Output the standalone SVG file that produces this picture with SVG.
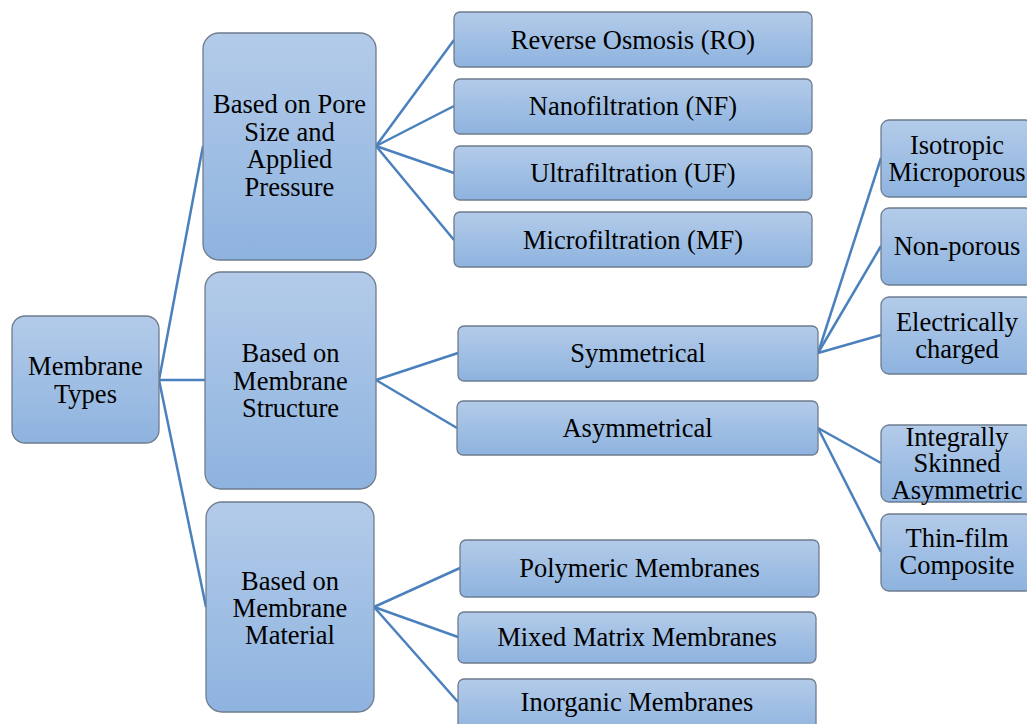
<svg xmlns="http://www.w3.org/2000/svg" width="1027" height="724" viewBox="0 0 1027 724">
<defs>
<linearGradient id="g" x1="0" y1="0" x2="0" y2="1">
<stop offset="0" stop-color="#b3cbe9"/>
<stop offset="1" stop-color="#8eb3df"/>
</linearGradient>
</defs>
<style>
.n{fill:url(#g);stroke:#6e7c8e;stroke-width:1.3}
.t{font-family:"Liberation Serif","Times New Roman",serif;font-size:26.5px;fill:#000;text-anchor:middle}
.c line{stroke:#4a80bd;stroke-width:2.5;fill:none}
</style>
<rect width="1027" height="724" fill="#fff"/>
<g class="c" id="connectors">
<line x1="159" y1="380" x2="203" y2="146"/>
<line x1="159" y1="380" x2="205" y2="380"/>
<line x1="159" y1="380" x2="206" y2="607"/>
<line x1="376" y1="146" x2="454" y2="40"/>
<line x1="376" y1="146" x2="454" y2="106"/>
<line x1="376" y1="146" x2="454" y2="173"/>
<line x1="376" y1="146" x2="454" y2="240"/>
<line x1="376" y1="380" x2="458" y2="353"/>
<line x1="376" y1="380" x2="457" y2="428"/>
<line x1="374" y1="607" x2="460" y2="568"/>
<line x1="374" y1="607" x2="458" y2="637"/>
<line x1="374" y1="607" x2="458" y2="702"/>
<line x1="818" y1="353" x2="881" y2="158"/>
<line x1="818" y1="353" x2="881" y2="246"/>
<line x1="818" y1="353" x2="881" y2="335"/>
<line x1="818" y1="428" x2="881" y2="463"/>
<line x1="818" y1="428" x2="881" y2="552"/>
</g>
<g id="root"><rect class="n" x="12" y="316" width="147" height="127" rx="13"/><text class="t" x="85.5" y="375">Membrane</text><text class="t" x="85.5" y="403">Types</text></g>
<g id="pore"><rect class="n" x="203" y="33" width="173" height="227" rx="16"/><text class="t" x="289.5" y="113">Based on Pore</text><text class="t" x="289.5" y="141">Size and</text><text class="t" x="289.5" y="168">Applied</text><text class="t" x="289.5" y="196">Pressure</text></g>
<g id="structure"><rect class="n" x="205" y="272" width="171" height="217" rx="16"/><text class="t" x="290.5" y="362">Based on</text><text class="t" x="290.5" y="390">Membrane</text><text class="t" x="290.5" y="417">Structure</text></g>
<g id="material"><rect class="n" x="206" y="502" width="168" height="210" rx="16"/><text class="t" x="290" y="590">Based on</text><text class="t" x="290" y="617">Membrane</text><text class="t" x="290" y="644">Material</text></g>
<g id="ro"><rect class="n" x="454" y="12" width="358" height="55" rx="6"/><text class="t" x="633" y="49">Reverse Osmosis (RO)</text></g>
<g id="nf"><rect class="n" x="454" y="79" width="358" height="55" rx="6"/><text class="t" x="633" y="115">Nanofiltration (NF)</text></g>
<g id="uf"><rect class="n" x="454" y="146" width="358" height="54" rx="6"/><text class="t" x="633" y="182">Ultrafiltration (UF)</text></g>
<g id="mf"><rect class="n" x="454" y="212" width="358" height="55" rx="6"/><text class="t" x="633" y="249">Microfiltration (MF)</text></g>
<g id="sym"><rect class="n" x="458" y="326" width="360" height="55" rx="6"/><text class="t" x="638" y="362">Symmetrical</text></g>
<g id="asym"><rect class="n" x="457" y="401" width="361" height="54" rx="6"/><text class="t" x="637.5" y="437">Asymmetrical</text></g>
<g id="poly"><rect class="n" x="460" y="540" width="359" height="57" rx="6"/><text class="t" x="639.5" y="577">Polymeric Membranes</text></g>
<g id="mixed"><rect class="n" x="458" y="612" width="358" height="51" rx="6"/><text class="t" x="637" y="646">Mixed Matrix Membranes</text></g>
<g id="inorg"><rect class="n" x="458" y="679" width="358" height="55" rx="6"/><text class="t" x="637" y="711">Inorganic Membranes</text></g>
<g id="iso"><rect class="n" x="881" y="120" width="152" height="77" rx="8"/><text class="t" x="957" y="154">Isotropic</text><text class="t" x="957" y="181">Microporous</text></g>
<g id="nonporous"><rect class="n" x="881" y="208" width="152" height="77" rx="8"/><text class="t" x="957" y="255">Non-porous</text></g>
<g id="elec"><rect class="n" x="881" y="297" width="152" height="77" rx="8"/><text class="t" x="957" y="331">Electrically</text><text class="t" x="957" y="358">charged</text></g>
<g id="integral"><rect class="n" x="881" y="425" width="152" height="77" rx="8"/><text class="t" x="957" y="446">Integrally</text><text class="t" x="957" y="472">Skinned</text><text class="t" x="957" y="499">Asymmetric</text></g>
<g id="thin"><rect class="n" x="881" y="514" width="152" height="77" rx="8"/><text class="t" x="957" y="547">Thin-film</text><text class="t" x="957" y="574">Composite</text></g>
</svg>
